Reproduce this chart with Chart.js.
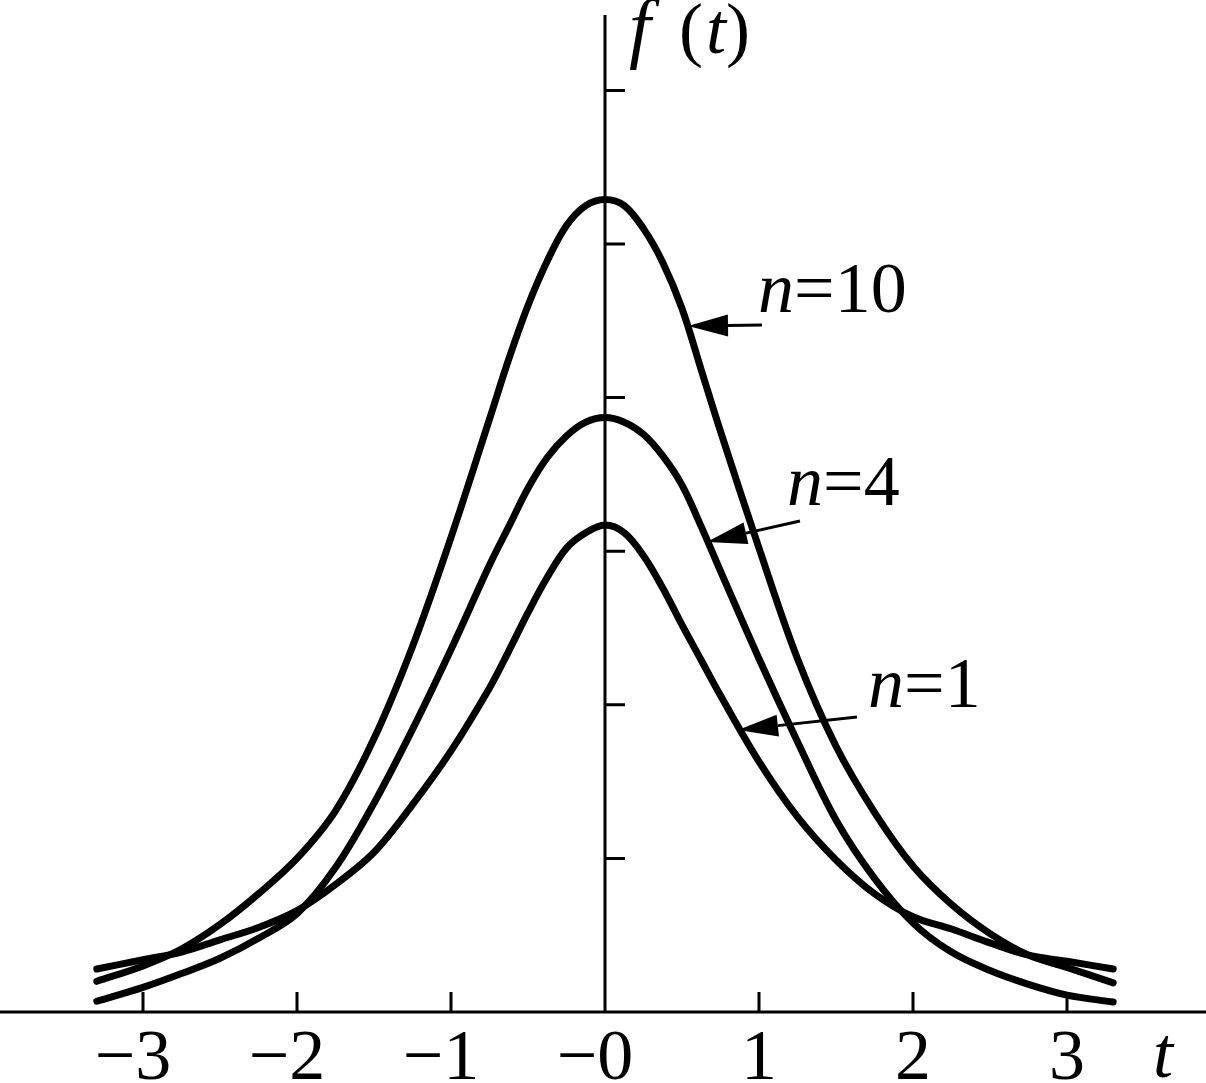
<!DOCTYPE html>
<html>
<head>
<meta charset="utf-8">
<script src="https://cdn.jsdelivr.net/npm/chart.js@4"></script>
<style>
  html, body { margin: 0; padding: 0; background: #fff; }
  #wrap { width: 1206px; height: 1083px; position: relative; }
</style>
</head>
<body>
<div id="wrap"><canvas id="chart"></canvas></div>
<script>
// valores (eixo y em unidades de marca)
var tValues = [-3.3, -3, -2.75, -2.5, -2.25, -2, -1.75, -1.5, -1.25, -1, -0.75, -0.625, -0.5, -0.375, -0.25, -0.125, 0,
               0.125, 0.25, 0.375, 0.5, 0.625, 0.75, 1, 1.25, 1.5, 1.75, 2, 2.25, 2.5, 2.75, 3, 3.3];
var n10 = [0.20, 0.30, 0.41, 0.57, 0.77, 1.00, 1.31, 1.78, 2.38, 3.09, 3.86, 4.25, 4.60, 4.89, 5.12, 5.25, 5.29,
           5.25, 5.10, 4.88, 4.58, 4.18, 3.78, 3.02, 2.30, 1.73, 1.30, 0.95, 0.70, 0.51, 0.37, 0.29, 0.19];
var n4 = [0.07, 0.16, 0.25, 0.35, 0.48, 0.64, 0.94, 1.36, 1.84, 2.36, 2.91, 3.16, 3.41, 3.61, 3.75, 3.84, 3.87,
          3.84, 3.76, 3.62, 3.43, 3.16, 2.87, 2.30, 1.76, 1.25, 0.87, 0.58, 0.39, 0.27, 0.18, 0.11, 0.065];
var n1 = [0.28, 0.34, 0.39, 0.47, 0.55, 0.66, 0.83, 1.04, 1.35, 1.70, 2.11, 2.35, 2.60, 2.83, 3.02, 3.12, 3.17,
          3.12, 2.97, 2.76, 2.52, 2.29, 2.06, 1.63, 1.27, 0.99, 0.77, 0.62, 0.54, 0.45, 0.37, 0.33, 0.28];

var xTicks = [-3, -2, -1, 0, 1, 2, 3];
var xTickLabels = ["\u22123", "\u22122", "\u22121", "\u22120", "1", "2", "3"];
var yTicks = [1, 2, 3, 4, 5, 6];
var seriesNames = ["10", "4", "1"];

// setas e rótulos das curvas (coordenadas de dados)
var notes = [
  { tip: [0.539, 4.466], tail: [1.019, 4.473], text: [0.994, 4.557] },
  { tip: [0.662, 3.060], tail: [1.266, 3.197], text: [1.182, 3.301] },
  { tip: [0.864, 1.836], tail: [1.636, 1.921], text: [1.708, 1.986] }
];

var SERIF = '"Liberation Serif", "Times New Roman", serif';
var FS = 72;

function pts(arr) {
  return tValues.map(function (t, i) { return { x: t, y: arr[i] }; });
}

function curva(arr) {
  return {
    data: pts(arr),
    borderColor: "#000",
    borderWidth: 7,
    borderCapStyle: "round",
    borderJoinStyle: "round",
    pointRadius: 0,
    fill: false,
    tension: 0.35,
    clip: false
  };
}

var eixos = {
  id: "eixos",
  beforeDatasetsDraw: function (chart) {
    var ctx = chart.ctx, x = chart.scales.x, y = chart.scales.y;
    var x0 = x.getPixelForValue(0), y0 = y.getPixelForValue(0);
    ctx.save();
    ctx.strokeStyle = "#000";
    ctx.lineWidth = 3;
    ctx.beginPath();
    ctx.moveTo(0, y0); ctx.lineTo(chart.width, y0);
    ctx.moveTo(x0, y.top); ctx.lineTo(x0, y0);
    xTicks.forEach(function (v) {
      if (v === 0) return;
      var px = x.getPixelForValue(v);
      ctx.moveTo(px, y0); ctx.lineTo(px, y0 - 20);
    });
    yTicks.forEach(function (v) {
      var py = y.getPixelForValue(v);
      ctx.moveTo(x0, py); ctx.lineTo(x0 + 20, py);
    });
    ctx.stroke();

    // rótulos do eixo x
    ctx.fillStyle = "#000";
    ctx.font = FS + "px " + SERIF;
    ctx.textAlign = "center";
    ctx.textBaseline = "alphabetic";
    xTicks.forEach(function (v, i) {
      var px = x.getPixelForValue(v);
      if (xTickLabels[i].charAt(0) === "\u2212") px -= 10;
      ctx.fillText(xTickLabels[i], px, y0 + 67);
    });

    // t e f(t)
    ctx.textAlign = "left";
    ctx.font = "italic " + FS + "px " + SERIF;
    ctx.fillText("t", 1153, y0 + 65);

    var fx = x0 + 24, fy = y.top + 38;
    ctx.font = "italic 78px " + SERIF;
    ctx.fillText("f", fx, fy);
    ctx.font = FS + "px " + SERIF;
    ctx.fillText("(", fx + 50, fy);
    ctx.font = "italic " + FS + "px " + SERIF;
    ctx.fillText("t", fx + 77, fy);
    ctx.font = FS + "px " + SERIF;
    ctx.fillText(")", fx + 97, fy);
    ctx.restore();
  },
  afterDatasetsDraw: function (chart) {
    var ctx = chart.ctx, x = chart.scales.x, y = chart.scales.y;
    ctx.save();
    ctx.fillStyle = "#000";
    ctx.strokeStyle = "#000";
    notes.forEach(function (n, i) {
      var tx = x.getPixelForValue(n.tip[0]), ty = y.getPixelForValue(n.tip[1]);
      var ex = x.getPixelForValue(n.tail[0]), ey = y.getPixelForValue(n.tail[1]);
      var dx = ex - tx, dy = ey - ty, len = Math.sqrt(dx * dx + dy * dy);
      var ux = dx / len, uy = dy / len;
      var bx = tx + ux * 40, by = ty + uy * 40;
      ctx.lineWidth = 3;
      ctx.beginPath();
      ctx.moveTo(bx, by); ctx.lineTo(ex, ey);
      ctx.stroke();
      ctx.beginPath();
      ctx.moveTo(tx, ty);
      ctx.lineTo(bx - uy * 11, by + ux * 11);
      ctx.lineTo(bx + uy * 11, by - ux * 11);
      ctx.closePath();
      ctx.fill();

      var lx = x.getPixelForValue(n.text[0]), ly = y.getPixelForValue(n.text[1]);
      ctx.textAlign = "left";
      ctx.textBaseline = "alphabetic";
      ctx.font = "italic " + FS + "px " + SERIF;
      ctx.fillText("n", lx, ly);
      var w = ctx.measureText("n").width;
      ctx.font = FS + "px " + SERIF;
      ctx.fillText("=" + seriesNames[i], lx + w, ly);
    });
    ctx.restore();
  }
};

var ctx = document.getElementById("chart").getContext("2d");
var chart = new Chart(ctx, {
  type: "line",
  data: {
    datasets: [curva(n10), curva(n4), curva(n1)]
  },
  options: {
    responsive: true,
    maintainAspectRatio: false,
    animation: false,
    layout: { padding: { top: 15, bottom: 71, left: 0, right: 0 } },
    plugins: { legend: { display: false }, tooltip: { enabled: false } },
    scales: {
      x: { type: "linear", min: -605 / 154, max: 601 / 154, display: false },
      y: { type: "linear", min: 0, max: 997 / 153.6, display: false }
    }
  },
  plugins: [eixos]
});
</script>
</body>
</html>
